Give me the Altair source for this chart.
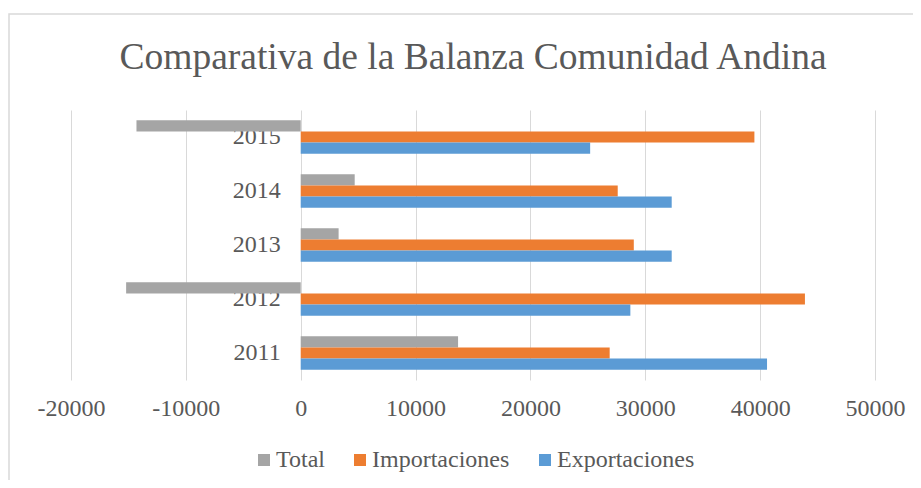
import altair as alt
import pandas as pd

years = ["2011", "2012", "2013", "2014", "2015"]
exportaciones = [40600, 28700, 32300, 32300, 25200]
importaciones = [26900, 43900, 29000, 27600, 39500]
total = [13700, -15200, 3300, 4700, -14300]

series = ["Total", "Importaciones", "Exportaciones"]
colors = ["#A5A5A5", "#ED7D31", "#5B9BD5"]
x_ticks = [-20000, -10000, 0, 10000, 20000, 30000, 40000, 50000]
title_text = "Comparativa de la Balanza Comunidad Andina"

rows = []
for i, y in enumerate(years):
    rows.append({"year": y, "serie": "Total", "valor": total[i]})
    rows.append({"year": y, "serie": "Importaciones", "valor": importaciones[i]})
    rows.append({"year": y, "serie": "Exportaciones", "valor": exportaciones[i]})
df = pd.DataFrame(rows)
df_years = pd.DataFrame({"year": years})

W = 804
H = 270
FONT = "Liberation Serif"
TXT = "#595959"
year_order = list(reversed(years))

ysc = alt.Scale(domain=year_order, paddingInner=0.38, paddingOuter=0.19)

border = alt.Chart(pd.DataFrame({"k": [0]})).mark_rect(
    fill="white", fillOpacity=0, stroke="#D9D9D9", strokeWidth=1.5
).encode(
    x=alt.value(-62), x2=alt.value(W + 80),
    y=alt.value(-96), y2=alt.value(H + 140),
)

title = alt.Chart(pd.DataFrame({"t": [title_text]})).mark_text(
    align="center", baseline="alphabetic", font=FONT, fontSize=37.5, color=TXT
).encode(
    x=alt.value(W / 2), y=alt.value(-41), text="t:N",
)

labels = alt.Chart(df_years).mark_text(
    align="right", baseline="middle", dx=-20, font=FONT, fontSize=24, color=TXT
).encode(
    x=alt.datum(0),
    y=alt.Y("year:N", scale=ysc, axis=None),
    text="year:N",
)

bars = alt.Chart(df).mark_bar().encode(
    x=alt.X(
        "valor:Q",
        scale=alt.Scale(domain=[-20000, 50000], nice=False, zero=False),
        axis=alt.Axis(
            values=x_ticks, format="d", title=None, grid=True, gridColor="#D9D9D9",
            gridWidth=1, domain=False, ticks=False, tickSize=0, labelPadding=16,
            labelFont=FONT, labelFontSize=24, labelColor=TXT, labelFlush=False,
            labelExpr="replace(datum.label, '\u2212', '-')",
        ),
    ),
    y=alt.Y("year:N", scale=ysc, axis=None),
    yOffset=alt.YOffset("serie:N", scale=alt.Scale(domain=series, paddingInner=0, paddingOuter=0)),
    color=alt.Color(
        "serie:N",
        scale=alt.Scale(domain=series, range=colors),
        legend=alt.Legend(
            title=None, orient="none", direction="horizontal",
            legendX=181, legendY=338, symbolType="square", symbolSize=144,
            symbolStrokeWidth=0, labelFont=FONT, labelFontSize=24, labelColor=TXT,
            labelOffset=0, columnPadding=23, padding=0,
        ),
    ),
)

chart = alt.layer(border, title, labels, bars).properties(
    width=W,
    height=H,
    autosize="none",
    background="white",
    padding={"left": 63, "top": 102, "right": 38, "bottom": 100},
).configure_view(stroke=None)

chart.save("out.html", embed_options={"renderer": "svg", "actions": False})
